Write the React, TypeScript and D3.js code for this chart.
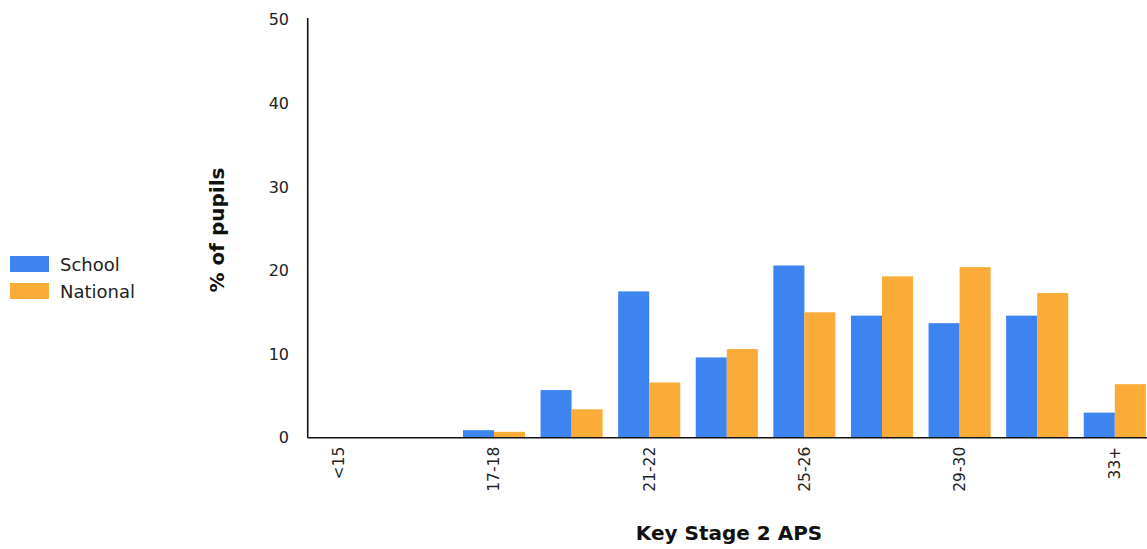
import React from "react";
import * as d3 from "d3";

const categories = ["<15", "15-16", "17-18", "19-20", "21-22", "23-24", "25-26", "27-28", "29-30", "31-32", "33+"];
const schoolValues = [0, 0, 0.9, 5.7, 17.5, 9.6, 20.6, 14.6, 13.7, 14.6, 3.0];
const nationalValues = [0, 0, 0.7, 3.4, 6.6, 10.6, 15.0, 19.3, 20.4, 17.3, 6.4];
const seriesNames = ["School", "National"];
const seriesColors = ["#3d84f0", "#fbab37"];
const tickLabels = ["<15", "17-18", "21-22", "25-26", "29-30", "33+"];
const yTicks = [0, 10, 20, 30, 40, 50];

const W = 1147;
const H = 549;
const FONT = "'DejaVu Sans', Verdana, sans-serif";

export default function App() {
  const axisX = 307.7;
  const baseY = 437.7;
  const x = d3
    .scaleBand<string>()
    .domain(categories)
    .range([300, 300 + 11 * 77.6])
    .paddingInner(0.2)
    .paddingOuter(0.1);
  const xs = d3.scaleBand<string>().domain(seriesNames).range([0, x.bandwidth()]).padding(0);
  const y = d3.scaleLinear().domain([0, 50]).range([baseY, 19.7]);
  const series = [schoolValues, nationalValues];

  return (
    <svg
      width={W}
      height={H}
      style={{ position: "absolute", left: 0, top: 0, background: "#fff" }}
      fontFamily={FONT}
    >
      <defs>
        <clipPath id="plotClip">
          <rect x={axisX} y={0} width={W - axisX} height={baseY} />
        </clipPath>
      </defs>
      <g clipPath="url(#plotClip)">
        {categories.map((c, i) =>
          series.map((vals, s) => (
            <rect
              key={c + s}
              x={(x(c) as number) + (xs(seriesNames[s]) as number)}
              y={y(vals[i])}
              width={xs.bandwidth()}
              height={baseY - y(vals[i])}
              fill={seriesColors[s]}
            />
          ))
        )}
      </g>
      {/* axes */}
      <line x1={axisX} x2={axisX} y1={18} y2={baseY} stroke="#111" strokeWidth={1.6} />
      <line x1={axisX} x2={W} y1={baseY} y2={baseY} stroke="#111" strokeWidth={1.6} />
      {yTicks.map((t) => (
        <text key={t} x={289} y={y(t)} dy="0.35em" textAnchor="end" fontSize={16} fill="#222">
          {t}
        </text>
      ))}
      {tickLabels.map((lab) => {
        const cx = (x(lab) as number) + x.bandwidth() / 2;
        return (
          <text
            key={lab}
            transform={`translate(${cx},${baseY + 9}) rotate(-90)`}
            textAnchor="end"
            dy="0.35em"
            fontSize={15.5}
            fill="#222"
          >
            {lab}
          </text>
        );
      })}
      <text
        transform={`translate(${224},${230}) rotate(-90)`}
        textAnchor="middle"
        fontSize={20}
        fontWeight="bold"
        fill="#111"
      >
        % of pupils
      </text>
      <text x={729} y={540} textAnchor="middle" fontSize={20} fontWeight="bold" fill="#111">
        Key Stage 2 APS
      </text>
      {/* legend */}
      {seriesNames.map((n, i) => (
        <g key={n} transform={`translate(10,${256 + i * 27})`}>
          <rect x={0} y={0} width={39} height={16} fill={seriesColors[i]} />
          <text x={50} y={15} fontSize={18} fill="#222">
            {n}
          </text>
        </g>
      ))}
    </svg>
  );
}
